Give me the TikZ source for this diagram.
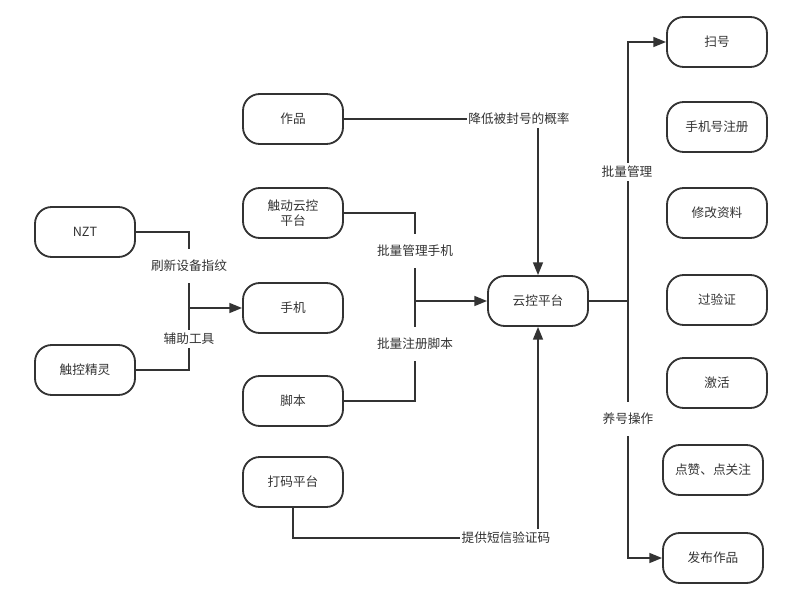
\documentclass[tikz,border=0pt]{standalone}
\usepackage{fontspec}
\setmainfont{Noto Sans CJK SC}
\usetikzlibrary{arrows.meta}
\definecolor{ink}{HTML}{333333}

\begin{document}
\begin{tikzpicture}[
  x=0.025cm, y=-0.025cm,
  box/.style={draw=ink,line width=1.3pt,rounded corners=0.42cm,minimum width=2.5cm,minimum height=1.25cm,
    align=center,text=ink,font=\fontsize{9}{11}\selectfont},
  lbl/.style={fill=white,text=ink,inner xsep=1pt,inner ysep=2pt,font=\fontsize{9}{11}\selectfont},
  wide/.style={inner ysep=8pt},
  link/.style={draw=ink,line width=1.3pt},
  arr/.style={link,-{Triangle[length=9pt,width=7pt]}}
]
  \useasboundingbox (0,0) rectangle (796,604);

  \node[box] (nzt) at (85,232) {NZT};
  \node[box] (touch) at (85,370) {触控精灵};
  \node[box] (works) at (293,119) {作品};
  \node[box] (ccloud) at (293,213) {触动云控\\平台};
  \node[box] (phone) at (293,308) {手机};
  \node[box] (script) at (293,401) {脚本};
  \node[box] (sms) at (293,482) {打码平台};
  \node[box] (cloud) at (538,301) {云控平台};

  \node[box] (scan) at (717,42) {扫号};
  \node[box] (reg) at (717,127) {手机号注册};
  \node[box] (edit) at (717,213) {修改资料};
  \node[box] (verify) at (717,300) {过验证};
  \node[box] (act) at (717,383) {激活};
  \node[box] (like) at (713,470) {点赞、点关注};
  \node[box] (publish) at (713,558) {发布作品};

  \coordinate (jl) at (189,308);
  \coordinate (jm) at (415,301);
  \coordinate (jb) at (538,538);
  \coordinate (jr) at (628,301);

  \draw[link] (nzt.east) -| (jl);
  \draw[link] (touch.east) -| (jl);
  \draw[arr] (jl) -- (phone.west);

  \draw[link] (ccloud.east) -| (jm);
  \draw[link] (script.east) -| (jm);
  \draw[arr] (jm) -- (cloud.west);

  \draw[arr] (works.east) -| (cloud.north);
  \draw[arr] (sms.south) |- (jb) -- (cloud.south);

  \draw[link] (cloud.east) -- (jr);
  \draw[arr] (jr) |- (scan.west);
  \draw[arr] (jr) |- (publish.west);

  % labels
  \node[lbl,wide] (l1) at (189,266) {刷新设备指纹};
  \node[lbl] (l2) at (189,339) {辅助工具};
  \node[lbl,wide] (l3) at (415,251) {批量管理手机};
  \node[lbl,wide] (l4) at (415,344) {批量注册脚本};
  \node[lbl] (l5) at (519,119) {降低被封号的概率};
  \node[lbl] (l6) at (506,538) {提供短信验证码};
  \node[lbl] (l7) at (627,172) {批量管理};
  \node[lbl,wide] (l8) at (628,419) {养号操作};
\end{tikzpicture}
\end{document}
